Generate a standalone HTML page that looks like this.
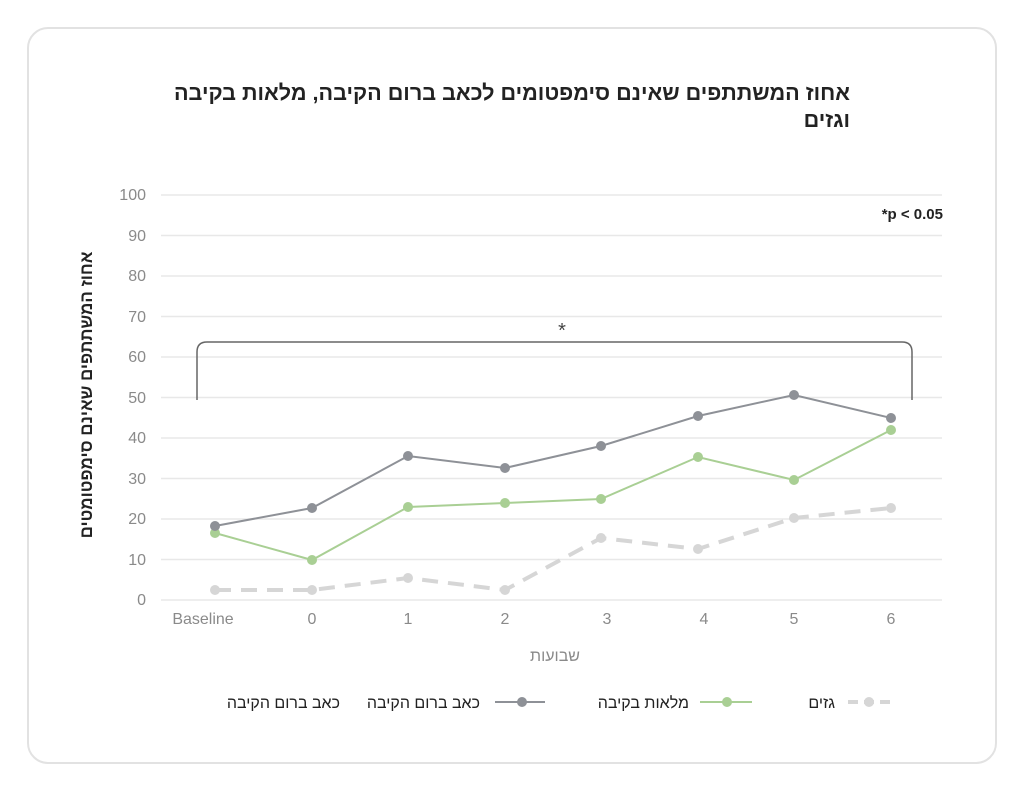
<!DOCTYPE html>
<html><head><meta charset="utf-8"><style>
body{margin:0;background:#fff;width:1024px;height:791px;overflow:hidden;font-family:"Liberation Sans",sans-serif}
.t{position:absolute;right:174px;top:79px;width:720px;text-align:right;direction:rtl;font-size:21.6px;font-weight:bold;color:#222;line-height:27px;font-family:"Liberation Sans","Noto Sans CJK SC",sans-serif}
</style></head><body>
<div class="t">אחוז המשתתפים שאינם סימפטומים לכאב ברום הקיבה, מלאות בקיבה<br>וגזים</div>
<svg width="1024" height="791" xmlns="http://www.w3.org/2000/svg" font-family="Liberation Sans, Noto Sans CJK SC, sans-serif">
<rect x="28" y="28" width="968" height="735" rx="20" fill="none" stroke="#e2e2e2" stroke-width="2"/>
<g stroke="#e8e8e8" stroke-width="1.5">
<line x1="161" x2="942" y1="195" y2="195"/><line x1="161" x2="942" y1="235.5" y2="235.5"/><line x1="161" x2="942" y1="276" y2="276"/><line x1="161" x2="942" y1="316.5" y2="316.5"/><line x1="161" x2="942" y1="357" y2="357"/><line x1="161" x2="942" y1="397.5" y2="397.5"/><line x1="161" x2="942" y1="438" y2="438"/><line x1="161" x2="942" y1="478.5" y2="478.5"/><line x1="161" x2="942" y1="519" y2="519"/><line x1="161" x2="942" y1="559.5" y2="559.5"/><line x1="161" x2="942" y1="600" y2="600"/>
</g>
<g font-size="16" fill="#8a8a8a" text-anchor="end">
<text x="146" y="200">100</text><text x="146" y="241">90</text><text x="146" y="281">80</text><text x="146" y="322">70</text><text x="146" y="362">60</text><text x="146" y="403">50</text><text x="146" y="443">40</text><text x="146" y="484">30</text><text x="146" y="524">20</text><text x="146" y="565">10</text><text x="146" y="605">0</text>
</g>
<g font-size="16" fill="#8a8a8a" text-anchor="middle">
<text x="203" y="624">Baseline</text><text x="312" y="624">0</text><text x="408" y="624">1</text><text x="505" y="624">2</text><text x="607" y="624">3</text><text x="704" y="624">4</text><text x="794" y="624">5</text><text x="891" y="624">6</text>
<text x="555" y="661">שבועות</text>
</g>
<text transform="translate(92,395) rotate(-90)" text-anchor="middle" font-size="17" font-weight="bold" fill="#222">אחוז המשתתפים שאינם סימפטומטים</text>
<text x="943" y="219" text-anchor="end" font-size="15" font-weight="bold" fill="#222">*p &lt; 0.05</text>
<path d="M197 400 V352 Q197 342 207 342 H902 Q912 342 912 352 V400" fill="none" stroke="#666" stroke-width="1.5"/>
<text x="562" y="337" text-anchor="middle" font-size="20" fill="#444">*</text>
<polyline points="215,590 312,590 408,578 505,590 601,538 698,549 794,518 891,508" fill="none" stroke="#d6d6d6" stroke-width="4" stroke-dasharray="16,10"/>
<g fill="#d6d6d6"><circle cx="215" cy="590" r="5"/><circle cx="312" cy="590" r="5"/><circle cx="408" cy="578" r="5"/><circle cx="505" cy="590" r="5"/><circle cx="601" cy="538" r="5"/><circle cx="698" cy="549" r="5"/><circle cx="794" cy="518" r="5"/><circle cx="891" cy="508" r="5"/></g>
<polyline points="215,533 312,560 408,507 505,503 601,499 698,457 794,480 891,430" fill="none" stroke="#a9cf94" stroke-width="2"/>
<g fill="#a9cf94"><circle cx="215" cy="533" r="5"/><circle cx="312" cy="560" r="5"/><circle cx="408" cy="507" r="5"/><circle cx="505" cy="503" r="5"/><circle cx="601" cy="499" r="5"/><circle cx="698" cy="457" r="5"/><circle cx="794" cy="480" r="5"/><circle cx="891" cy="430" r="5"/></g>
<polyline points="215,526 312,508 408,456 505,468 601,446 698,416 794,395 891,418" fill="none" stroke="#8e9197" stroke-width="2"/>
<g fill="#8e9197"><circle cx="215" cy="526" r="5"/><circle cx="312" cy="508" r="5"/><circle cx="408" cy="456" r="5"/><circle cx="505" cy="468" r="5"/><circle cx="601" cy="446" r="5"/><circle cx="698" cy="416" r="5"/><circle cx="794" cy="395" r="5"/><circle cx="891" cy="418" r="5"/></g>
<g font-size="16" fill="#222" text-anchor="end">
<line x1="848" x2="890" y1="702" y2="702" stroke="#d6d6d6" stroke-width="4" stroke-dasharray="10,6"/><circle cx="869" cy="702" r="5" fill="#d6d6d6"/>
<text x="835" y="708">גזים</text>
<line x1="700" x2="752" y1="702" y2="702" stroke="#a9cf94" stroke-width="2"/><circle cx="727" cy="702" r="5" fill="#a9cf94"/>
<text x="689" y="708">מלאות בקיבה</text>
<line x1="495" x2="545" y1="702" y2="702" stroke="#8e9197" stroke-width="2"/><circle cx="522" cy="702" r="5" fill="#8e9197"/>
<text x="480" y="708">כאב ברום הקיבה</text>
<text x="340" y="708">כאב ברום הקיבה</text>
</g>
</svg>
</body></html>
